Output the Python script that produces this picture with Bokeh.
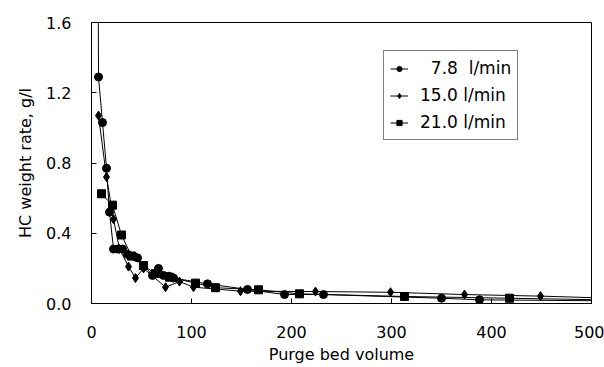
from bokeh.plotting import figure
from bokeh.models import Range1d, FixedTicker, Legend, LegendItem, NumeralTickFormatter
from bokeh.embed import file_html
from bokeh.resources import INLINE

# Data
x_78 = [6.5, 7, 11, 15, 18, 22, 26, 31, 36, 42, 46, 61, 67, 72, 77, 82, 116, 156, 193, 232, 350, 388, 520]
y_78 = [2.2, 1.29, 1.03, 0.77, 0.52, 0.31, 0.31, 0.31, 0.28, 0.27, 0.26, 0.16, 0.20, 0.16, 0.155, 0.145,
        0.112, 0.08, 0.051, 0.051, 0.03, 0.021, 0.015]

x_15 = [7, 15, 22, 28, 37, 44, 52, 74, 88, 102, 149, 224, 299, 373, 449, 520]
y_15 = [1.07, 0.72, 0.48, 0.31, 0.21, 0.145, 0.20, 0.093, 0.125, 0.093, 0.07, 0.068, 0.064, 0.051, 0.042, 0.03]

x_21 = [10, 21, 30, 40, 52, 64, 78, 104, 124, 167, 208, 313, 418, 520]
y_21 = [0.625, 0.56, 0.39, 0.27, 0.216, 0.17, 0.15, 0.116, 0.09, 0.078, 0.055, 0.04, 0.03, 0.02]

labels = ["\u20077.8  l/min", "15.0 l/min", "21.0 l/min"]
x_ticks = [0, 100, 200, 300, 400, 500]
y_ticks = [0.0, 0.4, 0.8, 1.2, 1.6]

FONT = "DejaVu Sans"

p = figure(width=604, height=367, output_backend="svg", toolbar_location=None,
           x_range=Range1d(0, 500), y_range=Range1d(0, 1.6),
           min_border_left=91, min_border_right=13, min_border_top=22, min_border_bottom=64)
p.background_fill_color = "white"
p.border_fill_color = "white"
p.outline_line_color = "black"
p.outline_line_width = 1
p.grid.visible = False

items = []
specs = [(x_78, y_78, "circle", 8), (x_15, y_15, "diamond", 9), (x_21, y_21, "square", 8)]
for (xs, ys, marker, sz), lab in zip(specs, labels):
    # smaller markers (hidden beneath the plotted ones) serve as the legend key
    lk = p.line(xs, ys, line_color="black", line_width=1)
    sk = p.scatter(xs, ys, marker=marker, size=6, fill_color="black", line_color="black")
    p.scatter(xs, ys, marker=marker, size=sz, fill_color="black", line_color="black")
    items.append(LegendItem(label=lab, renderers=[lk, sk]))

legend = Legend(items=items, location=(292, 163), border_line_color="black", border_line_width=1,
                background_fill_color="white", background_fill_alpha=1.0,
                label_text_font=FONT, label_text_font_size="17px", label_text_color="black",
                glyph_width=18, glyph_height=13, label_height=22, label_standoff=12,
                spacing=5, padding=6, margin=0)
p.add_layout(legend, "center")

for ax in (p.xaxis[0], p.yaxis[0]):
    ax.major_label_text_font = FONT
    ax.major_label_text_font_size = "16px"
    ax.major_label_text_color = "black"
    ax.axis_label_text_font = FONT
    ax.axis_label_text_font_size = "16px"
    ax.axis_label_text_font_style = "normal"
    ax.axis_label_text_color = "black"
    ax.axis_line_color = "black"
    ax.major_tick_line_color = "black"
    ax.major_tick_in = 5
    ax.major_tick_out = 0
    ax.minor_tick_line_color = None

p.xaxis.ticker = FixedTicker(ticks=x_ticks)
p.yaxis.ticker = FixedTicker(ticks=y_ticks)
p.yaxis.formatter = NumeralTickFormatter(format="0.0")
p.xaxis.axis_label = "Purge bed volume"
p.yaxis.axis_label = "HC weight rate, g/l"
p.xaxis.major_label_standoff = 22
p.yaxis.major_label_standoff = 20
p.xaxis.axis_label_standoff = 4
p.yaxis.axis_label_standoff = 8

open("out.html", "w").write(file_html(p, INLINE))
